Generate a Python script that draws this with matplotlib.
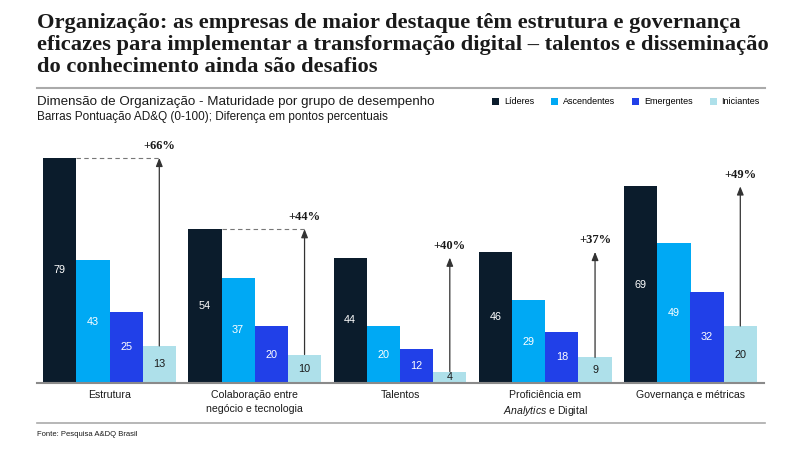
import matplotlib
matplotlib.use("Agg")
import matplotlib.pyplot as plt
import numpy as np
from matplotlib.lines import Line2D

plt.rcParams['font.family'] = ['Liberation Sans', 'DejaVu Sans']
plt.rcParams['mathtext.fontset'] = 'custom'
plt.rcParams['mathtext.it'] = 'Liberation Sans:italic'
plt.rcParams['mathtext.rm'] = 'Liberation Sans'

categories = ["Estrutura", "Colaboração entre\nnegócio e tecnologia", "Talentos",
              "Proficiência em\n$\\mathit{Analytics}$ e Digital", "Governança e métricas"]
series_names = ["Líderes", "Ascendentes", "Emergentes", "Iniciantes"]
lideres = [79, 54, 44, 46, 69]
ascendentes = [43, 37, 20, 29, 49]
emergentes = [25, 20, 12, 18, 32]
iniciantes = [13, 10, 4, 9, 20]
diffs = ["+66%", "+44%", "+40%", "+37%", "+49%"]
dashed = [True, True, False, False, False]

colors = ["#0b1c2c", "#00a9f4", "#2140e8", "#aee0ea"]
label_colors = ["white", "white", "white", "#1a1a1a"]

W, H = 800, 450
fig = plt.figure(figsize=(8, 4.5), dpi=100)

ax_left, ax_right, ax_top, ax_bottom = 37, 764, 140, 383
ax = fig.add_axes([ax_left / W, 1 - ax_bottom / H, (ax_right - ax_left) / W, (ax_bottom - ax_top) / H])

spacing = 145.25
bw = 33.2 / spacing
x0 = 109.5
ax.set_xlim((ax_left - x0) / spacing, (ax_right - x0) / spacing)
ax.set_ylim(0, (ax_bottom - ax_top) / 2.85)

x = np.arange(len(categories))
all_series = [lideres, ascendentes, emergentes, iniciantes]
handles = []
for j, (vals, c, lc, name) in enumerate(zip(all_series, colors, label_colors, series_names)):
    xs = x + (j - 1.5) * bw
    b = ax.bar(xs, vals, width=bw, color=c, label=name, zorder=2)
    handles.append(b)
    for xi, v in zip(xs, vals):
        ax.text(xi, v / 2, str(v), ha='center', va='center', color=lc, fontsize=7.8, zorder=3)

for i in range(len(categories)):
    xa = x[i] + 1.5 * bw
    ax.annotate("", xy=(xa, lideres[i]), xytext=(xa, iniciantes[i]),
                arrowprops=dict(arrowstyle='-|>,head_length=0.5,head_width=0.2', color='#333333', lw=0.9,
                                shrinkA=0, shrinkB=0), zorder=4)
    if dashed[i]:
        ax.plot([x[i] - 1.5 * bw + bw / 2, xa], [lideres[i], lideres[i]], ls=(0, (4, 3)),
                color='#777777', lw=0.8, zorder=1)
    ax.annotate(diffs[i], xy=(xa, lideres[i]), xytext=(0, 8.5), textcoords='offset points',
                ha='center', va='center', fontsize=9, fontweight='bold',
                family=['Liberation Serif', 'DejaVu Serif'], color='#1a1a1a', annotation_clip=False)

ax.set_xticks(x)
ax.set_xticklabels(categories, fontsize=7.6, color='#1a1a1a', linespacing=1.45)
ax.tick_params(axis='x', length=0, pad=5)
ax.set_yticks([])
for s in ['top', 'right', 'left']:
    ax.spines[s].set_visible(False)
ax.spines['bottom'].set_color('#8a8a8a')
ax.spines['bottom'].set_linewidth(1.5)
ax.spines['bottom'].set_zorder(5)

# Title
fig.text(37 / W, 1 - 13 / H,
         "Organização: as empresas de maior destaque têm estrutura e governança\n"
         "eficazes para implementar a transformação digital – talentos e disseminação\n"
         "do conhecimento ainda são desafios",
         ha='left', va='top', fontsize=16.2, fontweight='bold', family=['Liberation Serif', 'DejaVu Serif'],
         color='#1a1a1a', linespacing=1.13)

fig.add_artist(Line2D([37 / W, 765 / W], [1 - 88 / H, 1 - 88 / H], color='#aaaaaa', lw=1.5))
fig.add_artist(Line2D([37 / W, 765 / W], [1 - 423 / H, 1 - 423 / H], color='#aaaaaa', lw=1.2))

fig.text(37 / W, 1 - 102 / H, "Dimensão de Organização - Maturidade por grupo de desempenho",
         ha='left', va='center', fontsize=9.6, color='#1a1a1a')
fig.text(37 / W, 1 - 117 / H, "Barras Pontuação AD&Q (0-100); Diferença em pontos percentuais",
         ha='left', va='center', fontsize=8.5, color='#1a1a1a')
fig.text(37 / W, 1 - 435 / H, "Fonte: Pesquisa A&DQ Brasil",
         ha='left', va='center', fontsize=5.5, color='#1a1a1a')

fig.legend(handles=handles, labels=series_names, loc='center right',
           bbox_to_anchor=(768 / W, 1 - 102 / H), ncol=4, frameon=False, fontsize=6.5,
           handlelength=0.75, handleheight=0.75, handletextpad=0.55, columnspacing=1.9)

fig.savefig("out.png", dpi=100)
